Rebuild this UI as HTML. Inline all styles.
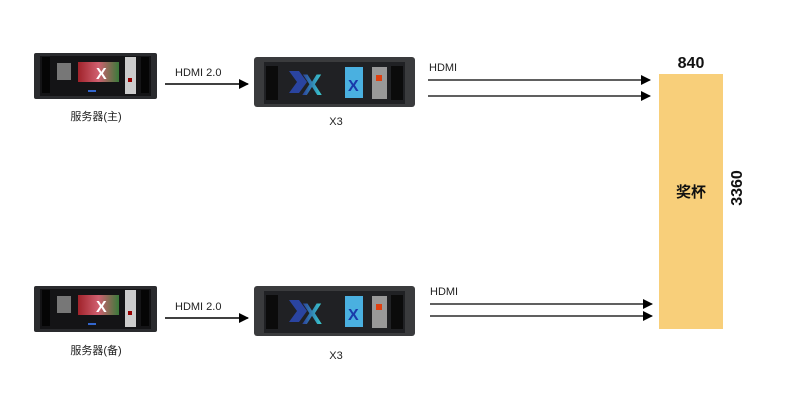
<!DOCTYPE html>
<html><head><meta charset="utf-8"><style>
html,body{margin:0;padding:0;background:#fff;width:800px;height:413px;overflow:hidden}
text{font-family:"Liberation Sans","Noto Sans CJK SC",sans-serif}
</style></head><body>
<svg width="800" height="413" viewBox="0 0 800 413" xmlns="http://www.w3.org/2000/svg">
<defs>
<marker id="ah" markerWidth="10" markerHeight="10" refX="9" refY="5" orient="auto" markerUnits="userSpaceOnUse">
<path d="M0,0 L10,5 L0,10 z" fill="#000"/></marker>
<linearGradient id="scr" x1="0" x2="1"><stop offset="0" stop-color="#a0222a"/><stop offset=".5" stop-color="#d06070"/><stop offset="1" stop-color="#3a7a3a"/></linearGradient>
<linearGradient id="xg" x1="0" x2="1"><stop offset="0" stop-color="#2a3c9a"/><stop offset="1" stop-color="#3ad0d0"/></linearGradient>
<g id="srv">
<rect x="0" y="0" width="123" height="46" rx="2" fill="#2a2b2e"/>
<rect x="6" y="3" width="111" height="40" fill="#141416"/>
<rect x="8" y="4" width="8" height="36" fill="#050505"/>
<rect x="107" y="4" width="8" height="36" fill="#050505"/>
<rect x="23" y="10" width="14" height="17" fill="#777"/>
<rect x="44" y="9" width="41" height="20" fill="url(#scr)"/>
<text x="62" y="26" font-size="16" font-weight="bold" fill="#fff">X</text>
<rect x="91" y="4" width="11" height="37" fill="#ccc"/>
<rect x="94" y="25" width="4" height="4" fill="#900"/>
<rect x="54" y="37" width="8" height="2" fill="#36c"/>
</g>
<g id="x3">
<rect x="0" y="0" width="161" height="50" rx="3" fill="#3a3b3d"/>
<rect x="10" y="5" width="141" height="42" fill="#202124"/>
<rect x="12" y="9" width="12" height="34" fill="#0b0b0b"/>
<rect x="137" y="9" width="12" height="34" fill="#0b0b0b"/>
<path d="M35,14 l10,0 l8,11 l-8,11 l-10,0 l8,-11z" fill="#2a44a0"/>
<text x="48" y="38" font-size="30" font-weight="bold" fill="url(#xg)">X</text>
<rect x="91" y="10" width="18" height="31" fill="#4ab0e0"/>
<text x="94" y="34" font-size="16" font-weight="bold" fill="#1a3aaa">X</text>
<rect x="118" y="10" width="15" height="32" fill="#999"/>
<rect x="122" y="18" width="6" height="6" fill="#e04010"/>
</g>
</defs>

<use href="#srv" x="34" y="53"/>
<use href="#srv" x="34" y="286"/>
<use href="#x3" x="254" y="57"/>
<use href="#x3" x="254" y="286"/>

<text x="96" y="120" font-size="11" text-anchor="middle" fill="#222">服务器(主)</text>
<text x="96" y="354" font-size="11" text-anchor="middle" fill="#222">服务器(备)</text>
<text x="336" y="125" font-size="11" text-anchor="middle" fill="#222">X3</text>
<text x="336" y="359" font-size="11" text-anchor="middle" fill="#222">X3</text>

<text x="175" y="76" font-size="11" fill="#222">HDMI 2.0</text>
<line x1="165" y1="84" x2="248" y2="84" stroke="#000" stroke-width="1.5" marker-end="url(#ah)"/>
<text x="175" y="310" font-size="11" fill="#222">HDMI 2.0</text>
<line x1="165" y1="318" x2="248" y2="318" stroke="#000" stroke-width="1.5" marker-end="url(#ah)"/>

<text x="429" y="71" font-size="11" fill="#222">HDMI</text>
<line x1="428" y1="80" x2="650" y2="80" stroke="#000" stroke-width="1.2" marker-end="url(#ah)"/>
<line x1="428" y1="96" x2="650" y2="96" stroke="#000" stroke-width="1.2" marker-end="url(#ah)"/>
<text x="430" y="295" font-size="11" fill="#222">HDMI</text>
<line x1="430" y1="304" x2="652" y2="304" stroke="#000" stroke-width="1.2" marker-end="url(#ah)"/>
<line x1="430" y1="316" x2="652" y2="316" stroke="#000" stroke-width="1.2" marker-end="url(#ah)"/>

<rect x="659" y="74" width="64" height="255" fill="#f8cf7a"/>
<text x="691" y="68" font-size="16" font-weight="bold" text-anchor="middle" fill="#111">840</text>
<text x="691" y="197" font-size="15" font-weight="bold" text-anchor="middle" fill="#111">奖杯</text>
<text transform="translate(742,188) rotate(-90)" font-size="16" font-weight="bold" text-anchor="middle" fill="#111">3360</text>
</svg>
</body></html>
